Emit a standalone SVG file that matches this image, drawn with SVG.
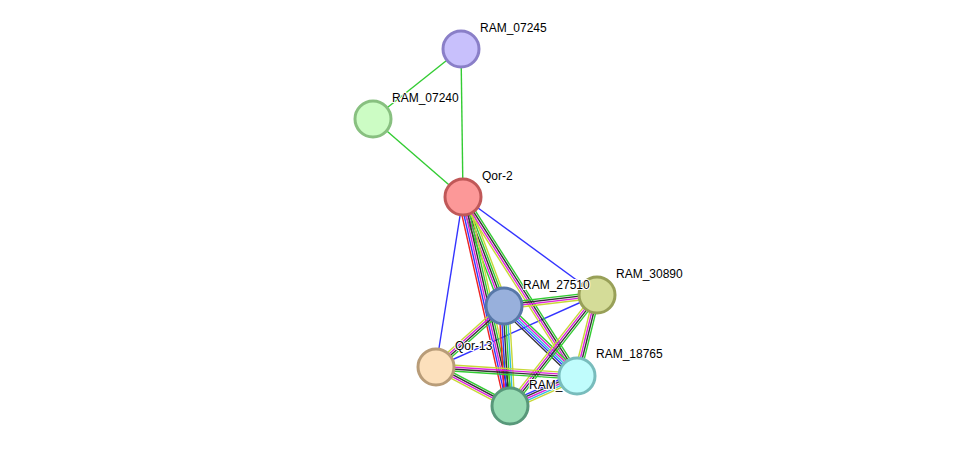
<svg xmlns="http://www.w3.org/2000/svg" width="976" height="452" viewBox="0 0 976 452">
<style>
line{stroke-width:1.4}
.g{stroke:#33cc33}.k{stroke:#333}.m{stroke:#dd22dd}.y{stroke:#c8d838}.b{stroke:#3333ff}.c{stroke:#33bbdd}.r{stroke:#ee2222}
circle{stroke-width:3}
text{font-family:"Liberation Sans",Arial,sans-serif;font-size:12px;fill:#000;paint-order:stroke;stroke:#fff;stroke-width:2px}
</style>
<rect width="976" height="452" fill="#fff"/>
<g id="connectors">
<line class="g" x1="461" y1="49" x2="373" y2="119"/>
<line class="g" x1="461" y1="49" x2="463" y2="197"/>
<line class="g" x1="373" y1="119" x2="463" y2="197"/>
<line class="b" x1="463" y1="197" x2="597" y2="295"/>
<line class="b" x1="463" y1="197" x2="436" y2="367"/>
<line class="b" x1="597" y1="295" x2="436" y2="367"/>
<g transform="translate(463,197) rotate(69.4)"><line class="y" x2="116.5" y1="-4" y2="-4"/><line class="g" x2="116.5" y1="-2" y2="-2"/><line class="k" x2="116.5"/><line class="m" x2="116.5" y1="2" y2="2"/><line class="g" x2="116.5" y1="4" y2="4"/></g>
<g transform="translate(463,197) rotate(77.3)"><line class="y" x2="214" y1="-5" y2="-5"/><line class="g" x2="214" y1="-3" y2="-3"/><line class="k" x2="214" y1="-1" y2="-1"/><line class="m" x2="214" y1="1" y2="1"/><line class="b" x2="214" y1="3" y2="3"/><line class="r" x2="214" y1="5" y2="5"/></g>
<g transform="translate(463,197) rotate(57.5)"><line class="g" x2="212" y1="-3" y2="-3"/><line class="k" x2="212" y1="-1" y2="-1"/><line class="m" x2="212" y1="1" y2="1"/><line class="y" x2="212" y1="3" y2="3"/></g>
<g transform="translate(504,306) rotate(-6.7)"><line class="g" x2="93.6" y1="-3" y2="-3"/><line class="k" x2="93.6" y1="-1" y2="-1"/><line class="m" x2="93.6" y1="1" y2="1"/><line class="y" x2="93.6" y1="3" y2="3"/></g>
<g transform="translate(504,306) rotate(138.1)"><line class="g" x2="91.4" y1="-3" y2="-3"/><line class="k" x2="91.4" y1="-1" y2="-1"/><line class="m" x2="91.4" y1="1" y2="1"/><line class="y" x2="91.4" y1="3" y2="3"/></g>
<g transform="translate(504,306) rotate(86.6)"><line class="y" x2="100" y1="-5" y2="-5"/><line class="c" x2="100" y1="-3" y2="-3"/><line class="g" x2="100" y1="-1" y2="-1"/><line class="k" x2="100" y1="1" y2="1"/><line class="b" x2="100" y1="3" y2="3"/><line class="r" x2="100" y1="5" y2="5"/></g>
<g transform="translate(504,306) rotate(43.8)"><line class="g" x2="101" y1="-4" y2="-4"/><line class="m" x2="101" y1="-2" y2="-2"/><line class="c" x2="101"/><line class="b" x2="101" y1="2" y2="2"/><line class="k" x2="101" y1="4" y2="4"/></g>
<g transform="translate(597,295) rotate(103.9)"><line class="g" x2="83.4" y1="-3" y2="-3"/><line class="k" x2="83.4" y1="-1" y2="-1"/><line class="m" x2="83.4" y1="1" y2="1"/><line class="y" x2="83.4" y1="3" y2="3"/></g>
<g transform="translate(597,295) rotate(128.1)"><line class="g" x2="141" y1="-3" y2="-3"/><line class="k" x2="141" y1="-1" y2="-1"/><line class="m" x2="141" y1="1" y2="1"/><line class="y" x2="141" y1="3" y2="3"/></g>
<g transform="translate(436,367) rotate(3.7)"><line class="y" x2="141.3" y1="-3" y2="-3"/><line class="m" x2="141.3" y1="-1" y2="-1"/><line class="k" x2="141.3" y1="1" y2="1"/><line class="g" x2="141.3" y1="3" y2="3"/></g>
<g transform="translate(436,367) rotate(27.8)"><line class="g" x2="83.6" y1="-3" y2="-3"/><line class="k" x2="83.6" y1="-1" y2="-1"/><line class="m" x2="83.6" y1="1" y2="1"/><line class="y" x2="83.6" y1="3" y2="3"/></g>
<g transform="translate(510,406) rotate(-24.1)"><line class="b" x2="73.4" y1="-4" y2="-4"/><line class="k" x2="73.4" y1="-2" y2="-2"/><line class="m" x2="73.4"/><line class="c" x2="73.4" y1="2" y2="2"/><line class="y" x2="73.4" y1="4" y2="4"/></g>
</g>
<g id="RAM_07245"><circle cx="461" cy="49" r="18" fill="#c8c0fc" stroke="#8a7fc8"/><text x="480" y="32">RAM_07245</text></g>
<g id="RAM_07240"><circle cx="373" cy="119" r="18" fill="#ccfcc4" stroke="#88c080"/><text x="392" y="102">RAM_07240</text></g>
<g id="Qor-2"><circle cx="463" cy="197" r="18" fill="#fc9898" stroke="#c05858"/><text x="482" y="180">Qor-2</text></g>
<g id="RAM_30890"><circle cx="597" cy="295" r="18" fill="#d4dc98" stroke="#98a058"/><text x="616" y="278">RAM_30890</text></g>
<g id="RAM_27510"><circle cx="504" cy="306" r="18" fill="#98b0dc" stroke="#5878a8"/><text x="523" y="289">RAM_27510</text></g>
<g id="Qor-13"><circle cx="436" cy="367" r="18" fill="#fce0bc" stroke="#b89c78"/><text x="455" y="350">Qor-13</text></g>
<g id="RAM_18765"><circle cx="577" cy="376" r="18" fill="#c0fcfc" stroke="#78bcbc"/><text x="596" y="358">RAM_18765</text></g>
<g id="RAM"><circle cx="510" cy="406" r="18" fill="#98dcb4" stroke="#58987a"/><text x="529" y="389">RAM_</text></g>
</svg>
